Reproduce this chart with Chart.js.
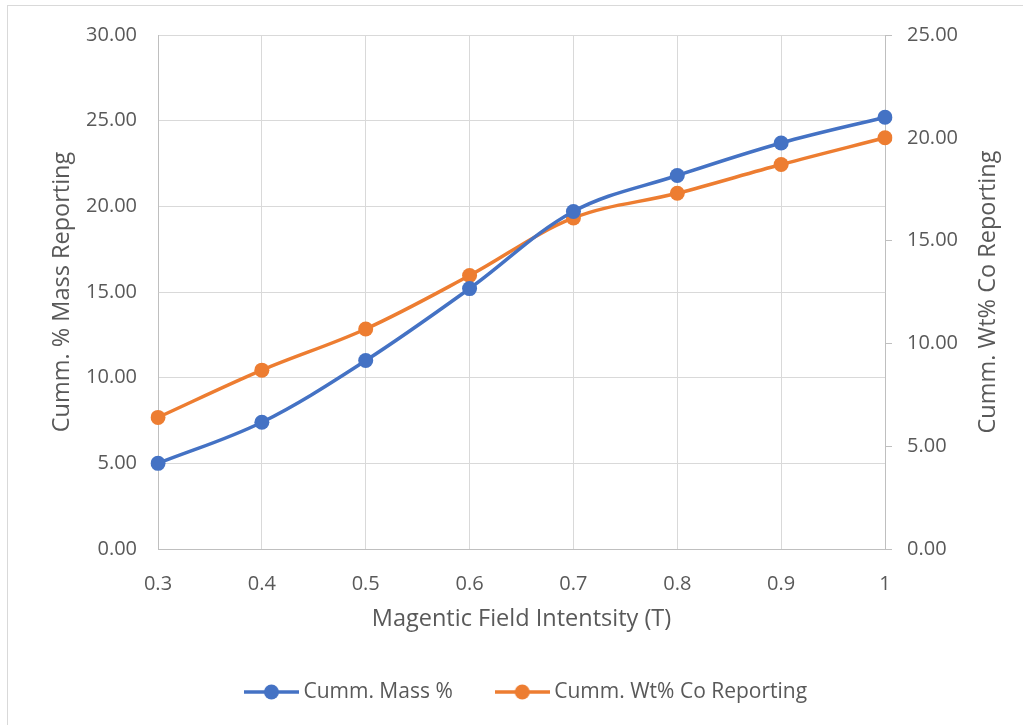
<!DOCTYPE html>
<html>
<head>
<meta charset="utf-8">
<script src="https://cdn.jsdelivr.net/npm/chart.js@4/dist/chart.umd.min.js"></script>
<style>
  html, body { margin: 0; padding: 0; background: #fff; }
  #wrap { position: absolute; left: 0; top: 0; width: 1023px; height: 725px; }
</style>
</head>
<body>
<div id="wrap"><canvas id="c" width="1023" height="725"></canvas></div>
<script>
const categories = ['0.3', '0.4', '0.5', '0.6', '0.7', '0.8', '0.9', '1'];
const massPct = [5.0, 7.4, 11.0, 15.2, 19.7, 21.8, 23.7, 25.2];
const coPct = [6.4, 8.7, 10.7, 13.3, 16.1, 17.3, 18.7, 20.0];
const seriesNames = ['Cumm. Mass %', 'Cumm. Wt% Co Reporting'];
const leftTitle = 'Cumm. % Mass Reporting';
const rightTitle = 'Cumm. Wt% Co Reporting';
const xTitle = 'Magentic Field Intentsity (T)';

const BLUE = '#4472C4', ORANGE = '#ED7D31';
const TXT = '#595959', GRID = '#d9d9d9', AXIS = '#bfbfbf';
const FONT = 'Open Sans';
const LEGEND_SHIFT = 17;

function legendIcon(color) {
  const c = document.createElement('canvas');
  c.width = 55; c.height = 16;
  const g = c.getContext('2d');
  g.strokeStyle = color; g.lineWidth = 3.5;
  g.beginPath(); g.moveTo(0, 8); g.lineTo(55, 8); g.stroke();
  g.fillStyle = color;
  g.beginPath(); g.arc(27.5, 8, 7.5, 0, Math.PI * 2); g.fill();
  return c;
}
const icons = [legendIcon(BLUE), legendIcon(ORANGE)];

const extras = {
  id: 'extras',
  beforeDraw(chart) {
    const ctx = chart.ctx;
    ctx.save();
    ctx.strokeStyle = GRID; ctx.lineWidth = 1;
    ctx.strokeRect(7.5, 5.5, 1100, 800);
    ctx.restore();
    const lg = chart.legend;
    if (lg && !lg._shifted) {
      lg.left += LEGEND_SHIFT; lg.right += LEGEND_SHIFT; lg._shifted = true;
    }
  },
  afterDraw(chart) {
    const ctx = chart.ctx;
    const a = chart.chartArea;
    ctx.save();
    ctx.fillStyle = TXT;
    ctx.font = '23.5px "' + FONT + '"';
    ctx.textAlign = 'center';
    ctx.textBaseline = 'middle';
    ctx.translate(988, (a.top + a.bottom) / 2);
    ctx.rotate(-Math.PI / 2);
    ctx.fillText(rightTitle, 0, 0);
    ctx.restore();
  }
};

new Chart(document.getElementById('c'), {
  type: 'line',
  data: {
    labels: categories,
    datasets: [
      { label: seriesNames[0], data: massPct, yAxisID: 'y', borderColor: BLUE, backgroundColor: BLUE,
        borderWidth: 3.5, pointRadius: 7.5, pointHoverRadius: 7.5, pointBorderWidth: 0, tension: 0.35, fill: false },
      { label: seriesNames[1], data: coPct, yAxisID: 'y1', borderColor: ORANGE, backgroundColor: ORANGE,
        borderWidth: 3.5, pointRadius: 7.5, pointHoverRadius: 7.5, pointBorderWidth: 0, tension: 0.35, fill: false }
    ]
  },
  options: {
    responsive: false,
    animation: false,
    devicePixelRatio: 1,
    layout: { padding: { left: 0, right: 0, top: 35, bottom: 12.5 } },
    plugins: {
      tooltip: { enabled: false },
      legend: {
        position: 'bottom',
        labels: {
          usePointStyle: true,
          pointStyleWidth: 43,
          padding: 48,
          color: TXT,
          font: { family: FONT, size: 21 },
          generateLabels(chart) {
            return chart.data.datasets.map((d, i) => ({
              text: d.label, fillStyle: d.borderColor, strokeStyle: d.borderColor,
              pointStyle: icons[i], fontColor: TXT, lineWidth: 0, datasetIndex: i, hidden: false
            }));
          }
        }
      }
    },
    scales: {
      x: {
        type: 'category',
        offset: false,
        grid: { color: GRID, drawTicks: false, lineWidth: 1 },
        border: { color: AXIS, width: 1 },
        ticks: { color: TXT, font: { family: FONT, size: 20 }, padding: 23, maxRotation: 0 },
        title: { display: true, text: xTitle, color: TXT, font: { family: FONT, size: 23.5, lineHeight: 1.2 }, padding: { top: 0, bottom: 0 } },
        afterFit(s) { s.height = 84.5; }
      },
      y: {
        position: 'left',
        min: 0, max: 30,
        ticks: { stepSize: 5, color: TXT, font: { family: FONT, size: 20 }, padding: 21, callback: v => Number(v).toFixed(2) },
        grid: { color: GRID, drawTicks: false, lineWidth: 1 },
        border: { color: AXIS, width: 1 },
        title: { display: true, text: leftTitle, color: TXT, font: { family: FONT, size: 23.5, lineHeight: 1.2 }, padding: { top: 48, bottom: 0 } },
        afterFit(s) { s.width = 158; }
      },
      y1: {
        position: 'right',
        min: 0, max: 25,
        ticks: { stepSize: 5, color: TXT, font: { family: FONT, size: 20 }, padding: 15, callback: v => Number(v).toFixed(2) },
        grid: { drawOnChartArea: false, drawTicks: true, tickLength: 7, color: AXIS },
        border: { color: AXIS, width: 1 },
        afterFit(s) { s.width = 1023 - 885; }
      }
    }
  },
  plugins: [extras]
});
</script>
</body>
</html>
